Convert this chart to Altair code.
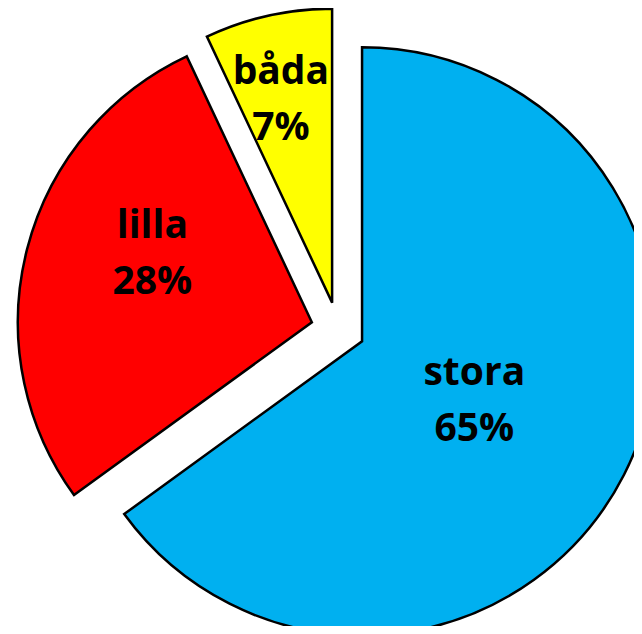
import math
import altair as alt
import pandas as pd

categories = ["stora", "lilla", "båda"]
values = [65, 28, 7]
colors = ["#00B0F0", "#FF0000", "#FFFF00"]

df = pd.DataFrame({"cat": categories, "value": values, "order": list(range(len(categories)))})

W, H = 626, 618
CX, CY = 338, 329          # desired pie centre in page pixels
BASE_X = CX - (8 + W / 2)
BASE_Y = CY - (8 + H / 2)
R = 294
EXPLODE = 27
LINE_H = 56
label_r = {"stora": 126, "lilla": 175, "båda": 212}
label_adj = {"stora": (0, 3), "lilla": (10, -25), "båda": (-5, 4)}

total = sum(values)
theta_scale = alt.Scale(domain=[0, total], range=[0, 2 * math.pi])

base = (
    alt.Chart(df)
    .transform_window(cum="sum(value)", sort=[alt.SortField("order")], frame=[None, 0])
    .transform_calculate(
        start="datum.cum - datum.value",
        mid="datum.cum - datum.value / 2",
        label="datum.cat + '\\n' + datum.value + '%'",
    )
)

layers = []
texts = []
cum = 0
for cat, v, col in zip(categories, values, colors):
    mid = (cum + v / 2) / total * 2 * math.pi
    cum += v
    ox = BASE_X + EXPLODE * math.sin(mid)
    oy = BASE_Y - EXPLODE * math.cos(mid)
    sl = base.transform_filter(alt.datum.cat == cat)
    arc = sl.mark_arc(
        outerRadius=R, fill=col, stroke="black", strokeWidth=2.5,
        xOffset=ox, yOffset=oy, clip=True,
    ).encode(
        theta=alt.Theta("start:Q", scale=theta_scale, stack=False),
        theta2="cum:Q",
    )
    dx, dy = label_adj[cat]
    txt = sl.mark_text(
        radius=label_r[cat], xOffset=ox + dx, yOffset=oy + dy - LINE_H / 2,
        font="Open Sans", fontSize=39, fontWeight="bold", lineBreak="\n",
        lineHeight=LINE_H, color="black", align="center", baseline="middle",
    ).encode(
        theta=alt.Theta("mid:Q", scale=theta_scale, stack=False),
        text="label:N",
    )
    layers.append(arc)
    texts.append(txt)

chart = (
    alt.layer(*layers, *texts)
    .properties(width=W, height=H, padding=0)
    .configure_view(stroke=None)
)

chart.save("out.html", embed_options={"renderer": "svg", "actions": False})
